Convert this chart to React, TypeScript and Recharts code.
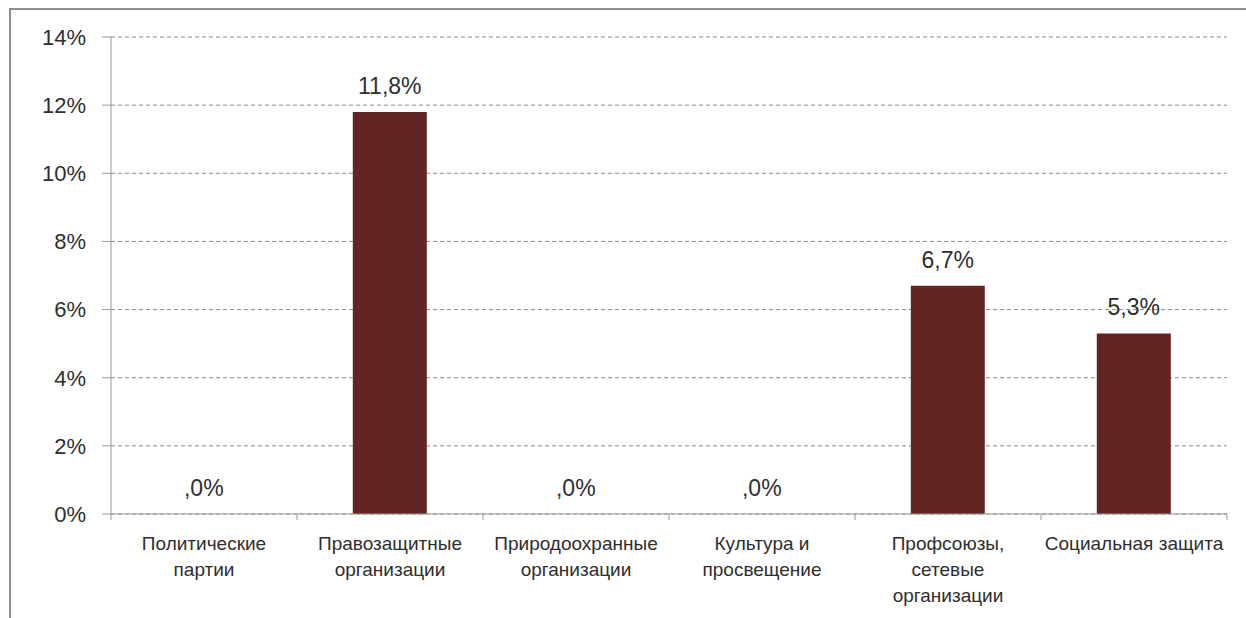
import { Bar, BarChart, CartesianGrid, LabelList, XAxis, YAxis } from "recharts"

const categories = [
    "Политические\nпартии",
    "Правозащитные\nорганизации",
    "Природоохранные\nорганизации",
    "Культура и\nпросвещение",
    "Профсоюзы,\nсетевые\nорганизации",
    "Социальная защита",
]
const shares = [0, 11.8, 0, 0, 6.7, 5.3]
const yTicks = [0, 2, 4, 6, 8, 10, 12, 14]

const BAR_COLOR = "#632523"
const TEXT_COLOR = "#2e2e2e"
const AXIS_COLOR = "#9a9a9a"
const FONT = "'Liberation Sans', Arial, sans-serif"

const chartData = categories.map((name, i) => ({ name, value: shares[i] }))

// Excel printed zero as ",0%" with the Russian number format
const formatShare = (v: number) => {
    const s = v.toFixed(1).replace(".", ",")
    return (s.startsWith("0") ? s.slice(1) : s) + "%"
}

function CategoryTick(props: any) {
    const { x, y, payload, index } = props
    const half = payload?.offset ?? 93
    const lines = String(payload.value).split("\n")
    return (
        <g>
            <line x1={x - half} x2={x - half} y1={y} y2={y + 6} stroke={AXIS_COLOR} />
            {index === categories.length - 1 && (
                <line x1={x + half} x2={x + half} y1={y} y2={y + 6} stroke={AXIS_COLOR} />
            )}
            <text textAnchor="middle" fontSize={19} fontFamily={FONT} fill={TEXT_COLOR}>
                {lines.map((line, i) => (
                    <tspan key={i} x={x} y={y + 36 + i * 26}>
                        {line}
                    </tspan>
                ))}
            </text>
        </g>
    )
}

export default function App() {
    return (
        <div
            style={{
                position: "absolute",
                left: 0,
                top: 0,
                width: 1246,
                height: 618,
                background: "#fff",
                overflow: "hidden",
            }}
        >
            <div
                style={{
                    position: "absolute",
                    left: 9,
                    top: 8,
                    width: 1400,
                    height: 800,
                    borderTop: "2px solid #8e8e8e",
                    borderLeft: "2px solid #8e8e8e",
                }}
            />
            <div style={{ position: "absolute", left: 0, top: 0 }}>
                <BarChart
                    width={1246}
                    height={618}
                    data={chartData}
                    margin={{ top: 37, right: 19, left: 0, bottom: 0 }}
                    barCategoryGap="30%"
                >
                    <CartesianGrid
                        vertical={false}
                        stroke="#8c8c8c"
                        strokeDasharray="4 3"
                    />
                    <XAxis
                        dataKey="name"
                        height={104}
                        interval={0}
                        tickLine={false}
                        tickSize={0}
                        tickMargin={0}
                        axisLine={{ stroke: AXIS_COLOR }}
                        tick={<CategoryTick />}
                    />
                    <YAxis
                        width={111}
                        domain={[0, 14]}
                        ticks={yTicks}
                        interval={0}
                        tickSize={9}
                        tickMargin={16}
                        tickFormatter={(v) => `${v}%`}
                        axisLine={{ stroke: AXIS_COLOR }}
                        tickLine={{ stroke: AXIS_COLOR }}
                        tick={{ fontSize: 22, fontFamily: FONT, fill: TEXT_COLOR }}
                    />
                    <Bar
                        dataKey="value"
                        fill={BAR_COLOR}
                        minPointSize={0.01}
                        isAnimationActive={false}
                    >
                        <LabelList
                            dataKey="value"
                            position="top"
                            offset={18}
                            formatter={(v: any) => formatShare(Number(v))}
                            style={{ fontSize: 23, fontFamily: FONT, fill: TEXT_COLOR }}
                        />
                    </Bar>
                </BarChart>
            </div>
        </div>
    )
}
